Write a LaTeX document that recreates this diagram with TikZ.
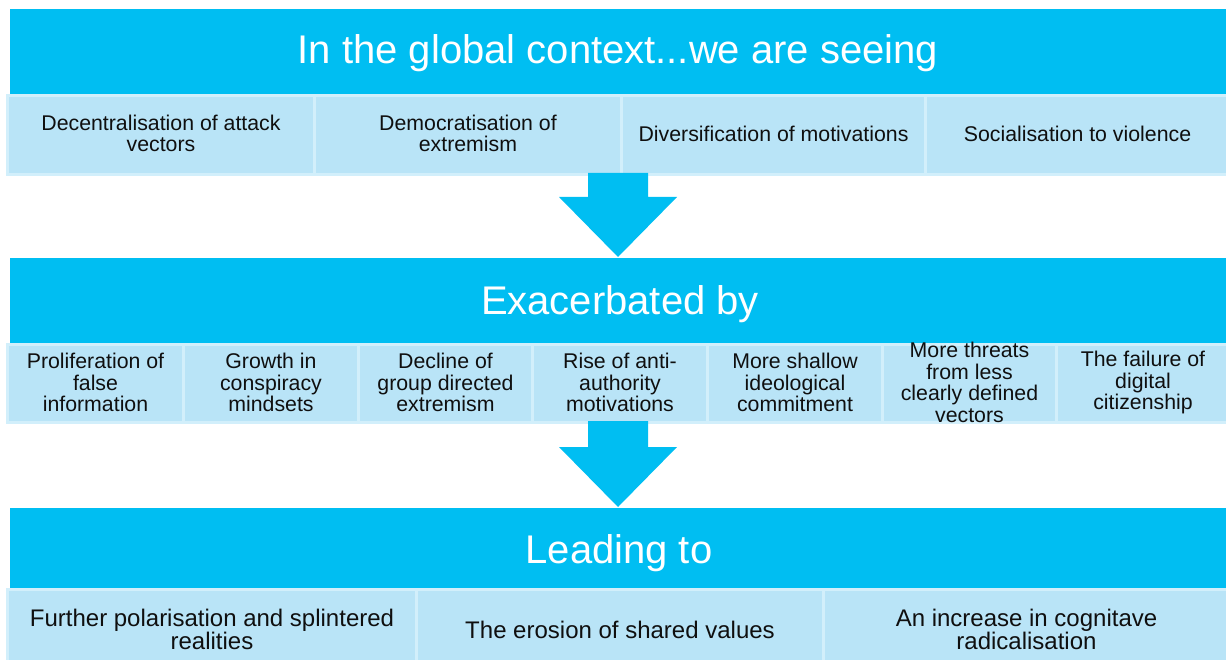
\documentclass[tikz,border=0pt]{standalone}
\usepackage{fontspec}
\setmainfont{Liberation Sans}
\usetikzlibrary{calc}
\definecolor{hdr}{RGB}{0,190,242}
\definecolor{cellc}{RGB}{185,228,247}
\definecolor{edgec}{RGB}{210,239,251}
\definecolor{txt}{RGB}{15,15,15}
\begin{document}
\begin{tikzpicture}[x=1pt,y=-1pt,
  hdrbox/.style={fill=hdr, draw=none, anchor=north west, inner sep=0pt},
  hdrtext/.style={text=white, anchor=base, inner sep=0pt, font=\fontsize{40}{44}\selectfont},
  cellbox/.style={fill=cellc, draw=edgec, line width=3pt, anchor=north west, inner sep=0pt},
  celltext/.style={align=center, text=txt, inner sep=0pt, font=\fontsize{21.3}{21.5}\selectfont},
  bigcelltext/.style={celltext, font=\fontsize{24}{21}\selectfont},
  blockarrow/.style={fill=hdr, draw=none}]
\useasboundingbox (0,0) rectangle (1226,660);
\clip (0,0) rectangle (1226,660);
% ---------- top band ----------
\node[hdrbox, minimum width=1218, minimum height=85] (h1) at (10,9) {};
\node[hdrtext] (t1) at (618,64) {In the global context...we are seeing};
\node[cellbox, minimum width=307, minimum height=79] (c11) at (6,94) {};
\node[cellbox, minimum width=307, minimum height=79] (c12) at (313,94) {};
\node[cellbox, minimum width=304, minimum height=79] (c13) at (620,94) {};
\node[cellbox, minimum width=304, minimum height=79] (c14) at (924,94) {};
\node[celltext] at ($(c11.center)+(0,-1.5)$) {Decentralisation of attack\\vectors};
\node[celltext] at ($(c12.center)+(0,-1.5)$) {Democratisation of\\extremism};
\node[celltext] at ($(c13.center)+(0,-1)$) {Diversification of motivations};
\node[celltext] at ($(c14.center)+(0,-1)$) {Socialisation to violence};
% ---------- arrow 1 ----------
\coordinate (a1) at (618,173);
\coordinate (b1) at (618,257);
\fill[blockarrow] ($(a1)+(-30,0)$) -- ($(a1)+(30,0)$) -- ($(a1)+(30,24)$) -- ($(a1)+(59,24)$)
  -- (b1) -- ($(a1)+(-59,24)$) -- ($(a1)+(-30,24)$) -- cycle;
% ---------- middle band ----------
\node[hdrbox, minimum width=1218, minimum height=85] (h2) at (10,258) {};
\node[hdrtext] (t2) at (620,315) {Exacerbated by};
\node[cellbox, minimum width=176, minimum height=78] (c21) at (6,343) {};
\node[cellbox, minimum width=175, minimum height=78] (c22) at (182,343) {};
\node[cellbox, minimum width=174, minimum height=78] (c23) at (357,343) {};
\node[cellbox, minimum width=175, minimum height=78] (c24) at (531,343) {};
\node[cellbox, minimum width=175, minimum height=78] (c25) at (706,343) {};
\node[cellbox, minimum width=174, minimum height=78] (c26) at (881,343) {};
\node[cellbox, minimum width=173, minimum height=78] (c27) at (1055,343) {};
\node[celltext] at ($(c21.center)+(0,-1)$) {Proliferation of\\false\\information};
\node[celltext] at ($(c22.center)+(0,-1)$) {Growth in\\conspiracy\\mindsets};
\node[celltext] at ($(c23.center)+(0,-1)$) {Decline of\\group directed\\extremism};
\node[celltext] at ($(c24.center)+(0,-1)$) {Rise of anti-\\authority\\motivations};
\node[celltext] at ($(c25.center)+(0,-1)$) {More shallow\\ideological\\commitment};
\node[celltext] at ($(c26.center)+(0,-1)$) {More threats\\from less\\clearly defined\\vectors};
\node[celltext] at ($(c27.center)+(0,-1)$) {The failure of\\digital\\citizenship};
% ---------- arrow 2 ----------
\coordinate (a2) at (618,421);
\coordinate (b2) at (618,507);
\fill[blockarrow] ($(a2)+(-30,0)$) -- ($(a2)+(30,0)$) -- ($(a2)+(30,26)$) -- ($(a2)+(59,26)$)
  -- (b2) -- ($(a2)+(-59,26)$) -- ($(a2)+(-30,26)$) -- cycle;
% ---------- bottom band ----------
\node[hdrbox, minimum width=1218, minimum height=80] (h3) at (10,508) {};
\node[hdrtext] (t3) at (619,563) {Leading to};
\node[cellbox, minimum width=409, minimum height=82] (c31) at (6,588) {};
\node[cellbox, minimum width=407, minimum height=82] (c32) at (415,588) {};
\node[cellbox, minimum width=406, minimum height=82] (c33) at (822,588) {};
\node[bigcelltext] at ($(c31.center)+(0,-1)$) {Further polarisation and splintered\\realities};
\node[bigcelltext] at ($(c32.center)+(0,-1)$) {The erosion of shared values};
\node[bigcelltext] at ($(c33.center)+(0,-1)$) {An increase in cognitave\\radicalisation};
\end{tikzpicture}
\end{document}
